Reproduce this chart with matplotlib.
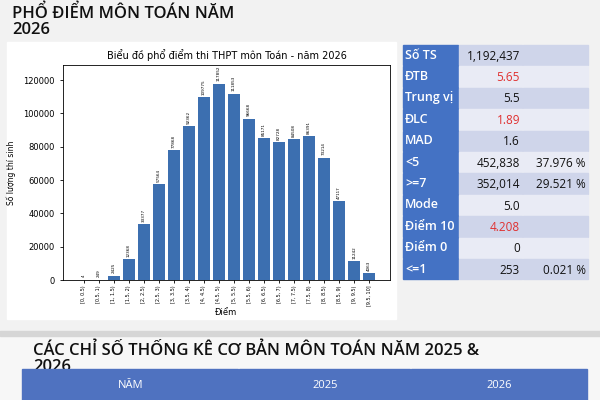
import matplotlib
matplotlib.use("Agg")
import matplotlib.pyplot as plt
from matplotlib.patches import Rectangle

# bins of the score histogram
bins = ["[0, 0.5)", "[0.5, 1)", "[1, 1.5)", "[1.5, 2)", "[2, 2.5)", "[2.5, 3)",
        "[3, 3.5)", "[3.5, 4)", "[4, 4.5)", "[4.5, 5)", "[5, 5.5)", "[5.5, 6)",
        "[6, 6.5)", "[6.5, 7)", "[7, 7.5)", "[7.5, 8)", "[8, 8.5)", "[8.5, 9)",
        "[9, 9.5)", "[9.5, 10]"]
counts = [4, 249, 2425, 12368, 33377, 57564, 77868, 92362, 109775, 117852,
          111853, 96668, 85171, 82728, 84508, 86391, 73214, 47117, 11242, 4063]

# stats table on the right
stat_names = ["Số TS", "ĐTB", "Trung vị", "ĐLC", "MAD", "<5", ">=7",
              "Mode", "Điểm 10", "Điểm 0", "<=1"]
stat_values = ["1,192,437", "5.65", "5.5", "1.89", "1.6", "452,838", "352,014",
               "5.0", "4.208", "0", "253"]
stat_pcts = ["", "", "", "", "", "37.976 %", "29.521 %", "", "", "", "0.021 %"]
red_rows = ["ĐTB", "ĐLC", "Điểm 10"]

header_cols = ["NĂM", "2025", "2026"]

W, H = 600, 400
fig = plt.figure(figsize=(6, 4), dpi=100)
fig.patch.set_facecolor("#f7f7f7")


def px_rect(x0, y0, x1, y1, **kw):
    # rectangle in pixel coords measured from the top-left corner
    fig.patches.append(Rectangle((x0 / W, 1 - y1 / H), (x1 - x0) / W, (y1 - y0) / H,
                                 transform=fig.transFigure, figure=fig, **kw))


def px_text(x, y, s, **kw):
    fig.text(x / W, 1 - y / H, s, **kw)


slide_font = ["Open Sans", "DejaVu Sans"]

# top slide background, chart panel and bottom slide border
px_rect(0, 0, 600, 331, color="#f2f2f2", zorder=-3)
px_rect(0, 331, 600, 336, color="#d6d6d6", zorder=-3)
px_rect(7, 42, 396, 319, color="white", zorder=-2)

px_text(12, 4, "PHỔ ĐIỂM MÔN TOÁN NĂM\n2026", fontsize=12, fontweight="semibold",
        family=slide_font, va="top", linespacing=1.0, color="#111111")

# histogram
ax = fig.add_axes([63 / W, 1 - 280 / H, 327 / W, 215 / H])
ax.set_zorder(2)
x = range(len(bins))
ax.bar(x, counts, width=0.8, color="#3c6fb0")
for xi, c in zip(x, counts):
    ax.text(xi, c + 1500, str(c), rotation=90, ha="center", va="bottom", fontsize=3)
ax.set_xticks(list(x))
ax.set_xticklabels(bins, rotation=90, fontsize=3.5)
ax.set_ylim(0, 129000)
ax.set_yticks(range(0, 120001, 20000))
ax.tick_params(axis="y", labelsize=6, length=2.5, width=0.6)
ax.tick_params(axis="x", length=2, width=0.6, pad=2)
ax.set_title("Biểu đồ phổ điểm thi THPT môn Toán - năm 2026", fontsize=7, pad=4)
ax.set_ylabel("Số lượng thí sinh", fontsize=5.5, labelpad=5)
ax.set_xlabel("Điểm", fontsize=6, labelpad=1)
for sp in ax.spines.values():
    sp.set_linewidth(0.6)

# stats table
row_top = 45
row_h = 21.4
for i, (name, val, pct) in enumerate(zip(stat_names, stat_values, stat_pcts)):
    y0 = row_top + i * row_h
    y1 = y0 + row_h - 1
    fill = "#cfd5ea" if i % 2 == 0 else "#e9ebf5"
    px_rect(403, y0, 458, y1, color="#4472c4", zorder=1)
    px_rect(459, y0, 522, y1, color=fill, zorder=1)
    px_rect(523, y0, 588, y1, color=fill, zorder=1)
    ym = (y0 + y1) / 2
    px_text(405, ym, name, fontsize=9, color="white", fontweight="semibold",
            family=slide_font, va="center", ha="left")
    px_text(520, ym + 1, val, fontsize=8.5, family=slide_font, va="center", ha="right",
            color="#e03030" if name in red_rows else "#111111")
    if pct:
        px_text(586, ym + 1, pct, fontsize=8.5, family=slide_font, va="center",
                ha="right", color="#111111")

# second slide: title and table header
px_text(33, 342, "CÁC CHỈ SỐ THỐNG KÊ CƠ BẢN MÔN TOÁN NĂM 2025 &\n2026", fontsize=12,
        family=slide_font, va="top", ha="left", linespacing=1.05, color="#111111",
        fontweight="semibold")
col_edges = [22, 239, 411, 588]
for j, lab in enumerate(header_cols):
    px_rect(col_edges[j], 369, col_edges[j + 1] - 1, 400, color="#4f72c0", zorder=5)
    px_text((col_edges[j] + col_edges[j + 1]) / 2, 385, lab, fontsize=8,
            color="white", family=slide_font, ha="center", va="center", zorder=6)

fig.savefig("out.png", dpi=100, facecolor=fig.get_facecolor())
